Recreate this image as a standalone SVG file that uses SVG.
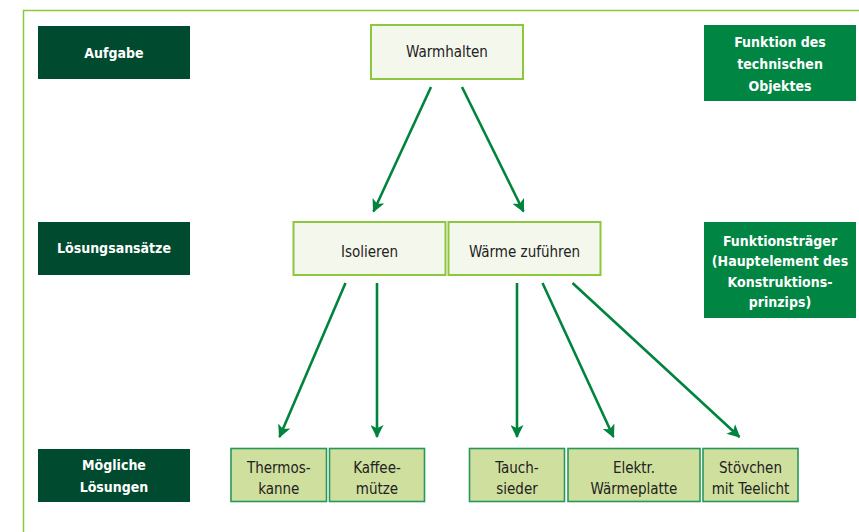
<svg xmlns="http://www.w3.org/2000/svg" width="859" height="532" viewBox="0 0 859 532">
  <style>
    .frame { fill: none; stroke: #8cc63e; stroke-width: 1.5; }
    .label-dark { fill: #004b2f; }
    .label-mid { fill: #008542; }
    .fn { fill: #f4f7ec; stroke: #8dc63f; stroke-width: 2; }
    .sol { fill: #cfdf9d; stroke: #27985a; stroke-width: 1.6; }
    text { font-family: "DejaVu Sans Condensed", "Liberation Sans Narrow", "Liberation Sans", sans-serif; font-stretch: condensed; text-anchor: middle; }
    .hd { fill: #ffffff; font-weight: bold; font-size: 14px; }
    .tx { fill: #222222; font-size: 15px; }
    .conn line { stroke: #00843d; stroke-width: 2.6; }
  </style>
  <defs>
    <marker id="arrow" viewBox="0 0 12 12" refX="11" refY="6" markerWidth="5" markerHeight="5" orient="auto" markerUnits="strokeWidth">
      <path d="M0,0 L12,6 L0,12 L3,6 Z" fill="#00843d"/>
    </marker>
  </defs>

  <!-- outer frame -->
  <path class="frame" d="M23.5,540 V10.5 H870"/>

  <!-- row labels -->
  <g id="aufgabe">
    <rect class="label-dark" x="38" y="26" width="152" height="53"/>
    <text class="hd" x="114" y="58">Aufgabe</text>
  </g>
  <g id="loesungsansaetze">
    <rect class="label-dark" x="38" y="222" width="152" height="53"/>
    <text class="hd" x="114" y="253">Lösungsansätze</text>
  </g>
  <g id="moegliche-loesungen">
    <rect class="label-dark" x="38" y="449" width="152" height="53"/>
    <text class="hd" x="114" y="470">Mögliche</text>
    <text class="hd" x="114" y="492">Lösungen</text>
  </g>

  <!-- right-hand notes -->
  <g id="funktion">
    <rect class="label-mid" x="704" y="25" width="152" height="76"/>
    <text class="hd" x="780" y="47">Funktion des</text>
    <text class="hd" x="780" y="69">technischen</text>
    <text class="hd" x="780" y="91">Objektes</text>
  </g>
  <g id="funktionstraeger">
    <rect class="label-mid" x="704" y="222" width="152" height="96"/>
    <text class="hd" x="780" y="246">Funktionsträger</text>
    <text class="hd" x="780" y="266">(Hauptelement des</text>
    <text class="hd" x="780" y="287">Konstruktions-</text>
    <text class="hd" x="780" y="307">prinzips)</text>
  </g>

  <!-- function and approaches -->
  <g id="warmhalten">
    <rect class="fn" x="371" y="25" width="152" height="54"/>
    <text class="tx" x="447" y="57">Warmhalten</text>
  </g>
  <g id="isolieren">
    <rect class="fn" x="293.5" y="222" width="152" height="53"/>
    <text class="tx" x="369.5" y="257">Isolieren</text>
  </g>
  <g id="waerme-zufuehren">
    <rect class="fn" x="448.5" y="222" width="152" height="53"/>
    <text class="tx" x="524.5" y="257">Wärme zuführen</text>
  </g>

  <!-- possible solutions -->
  <g id="thermoskanne">
    <rect class="sol" x="231" y="448.5" width="95.5" height="53"/>
    <text class="tx" x="278.75" y="473">Thermos-</text>
    <text class="tx" x="278.75" y="494">kanne</text>
  </g>
  <g id="kaffeemuetze">
    <rect class="sol" x="329.5" y="448.5" width="95" height="53"/>
    <text class="tx" x="377" y="473">Kaffee-</text>
    <text class="tx" x="377" y="494">mütze</text>
  </g>
  <g id="tauchsieder">
    <rect class="sol" x="469.5" y="448.5" width="95" height="53"/>
    <text class="tx" x="517" y="473">Tauch-</text>
    <text class="tx" x="517" y="494">sieder</text>
  </g>
  <g id="waermeplatte">
    <rect class="sol" x="568" y="448.5" width="132" height="53"/>
    <text class="tx" x="634" y="473">Elektr.</text>
    <text class="tx" x="634" y="494">Wärmeplatte</text>
  </g>
  <g id="stoevchen">
    <rect class="sol" x="703" y="448.5" width="95" height="53"/>
    <text class="tx" x="750.5" y="473">Stövchen</text>
    <text class="tx" x="750.5" y="494">mit Teelicht</text>
  </g>

  <!-- connectors -->
  <g class="conn" id="connectors">
    <line x1="431" y1="87" x2="373.5" y2="211.5" marker-end="url(#arrow)"/>
    <line x1="462" y1="87" x2="523.5" y2="211.5" marker-end="url(#arrow)"/>
    <line x1="345.5" y1="283" x2="279.5" y2="437" marker-end="url(#arrow)"/>
    <line x1="377" y1="283" x2="377" y2="437" marker-end="url(#arrow)"/>
    <line x1="517" y1="283" x2="517" y2="437" marker-end="url(#arrow)"/>
    <line x1="542.5" y1="283" x2="613.5" y2="437" marker-end="url(#arrow)"/>
    <line x1="572.5" y1="283" x2="739.5" y2="437" marker-end="url(#arrow)"/>
  </g>
</svg>
